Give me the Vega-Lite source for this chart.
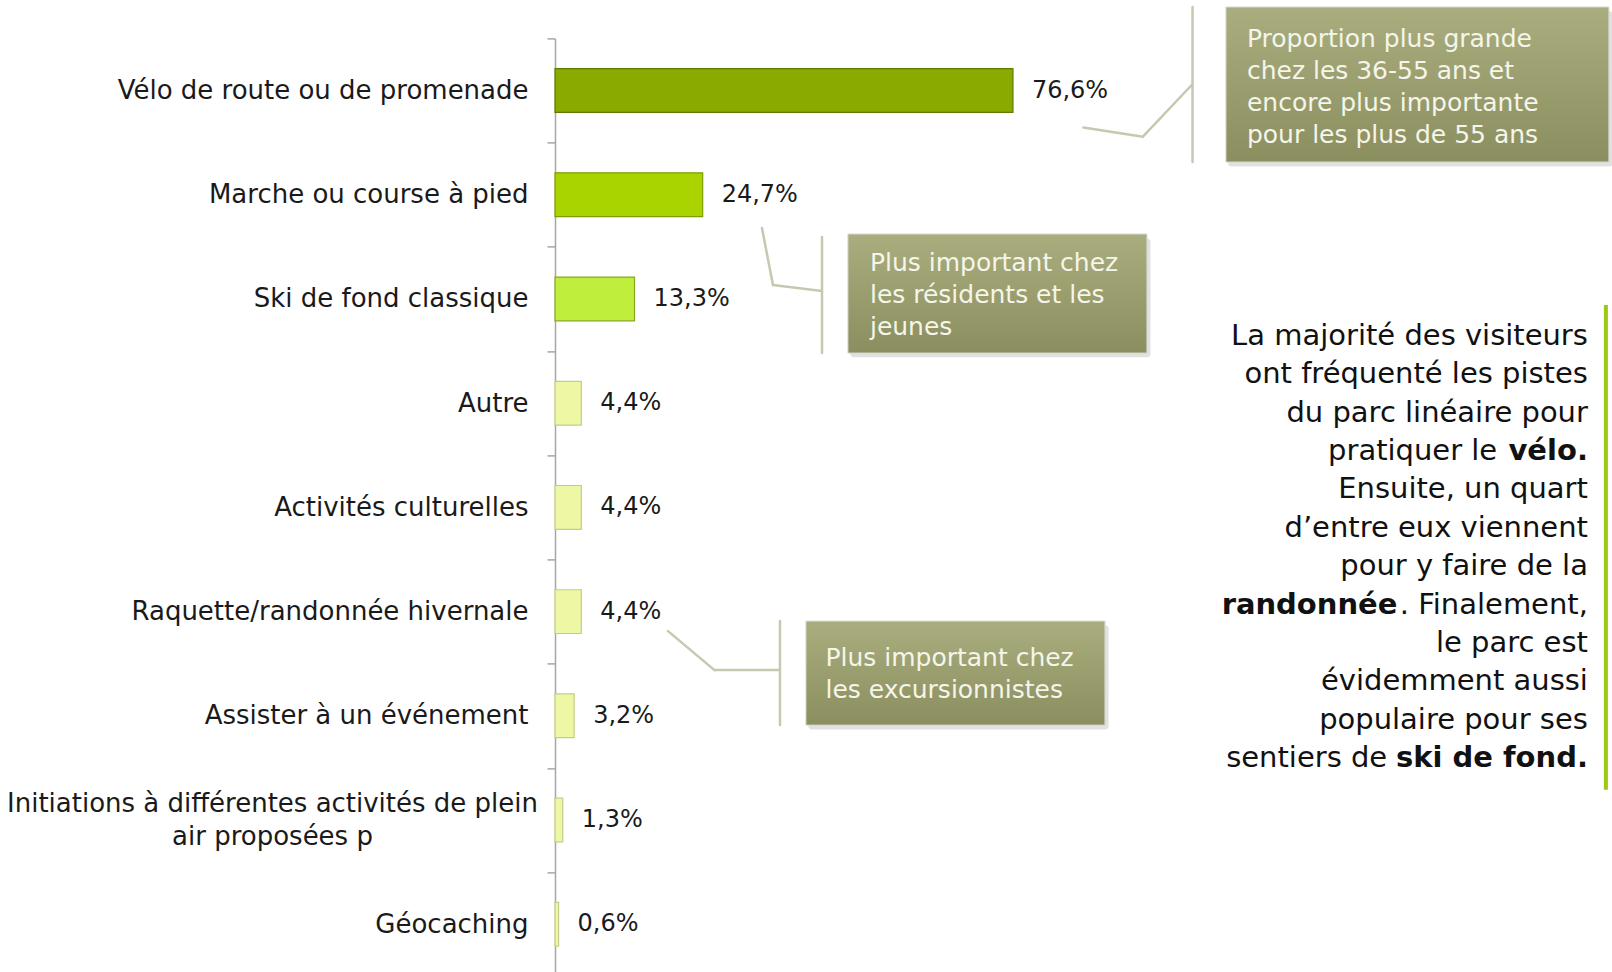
{
  "$schema": "https://vega.github.io/schema/vega-lite/v6.json",
  "width": 1057,
  "height": 938,
  "autosize": {"type": "none"},
  "padding": {"left": 555, "top": 38.4, "right": 0, "bottom": 0},
  "background": "#ffffff",
  "config": {"view": {"stroke": null}, "font": "DejaVu Sans"},
  "datasets": {
    "activites": [
      {"activite": "Vélo de route ou de promenade", "pct": 76.6, "label": "76,6%"},
      {"activite": "Marche ou course à pied", "pct": 24.7, "label": "24,7%"},
      {"activite": "Ski de fond classique", "pct": 13.3, "label": "13,3%"},
      {"activite": "Autre", "pct": 4.4, "label": "4,4%"},
      {"activite": "Activités culturelles", "pct": 4.4, "label": "4,4%"},
      {"activite": "Raquette/randonnée hivernale", "pct": 4.4, "label": "4,4%"},
      {"activite": "Assister à un événement", "pct": 3.2, "label": "3,2%"},
      {"activite": "Initiations à différentes activités de plein air proposées p", "pct": 1.3, "label": "1,3%"},
      {"activite": "Géocaching", "pct": 0.6, "label": "0,6%"}
    ]
  },
  "layer": [
    {
      "data": {"name": "activites"},
      "mark": {"type": "bar", "strokeWidth": 1.2},
      "encoding": {
        "y": {
          "field": "activite", "type": "nominal", "sort": null,
          "scale": {"paddingInner": 0.58, "paddingOuter": 0.29},
          "axis": {
            "title": null,
            "domainColor": "#A6A6A6", "domainWidth": 1.5,
            "tickColor": "#A6A6A6", "tickWidth": 1.5, "tickSize": 8,
            "tickOffset": -52.1,
            "labelOffset": {"condition": {"test": "indexof(datum.value, 'Initiations') == 0", "value": 35.6}, "value": 52.1},
            "labelFont": "DejaVu Sans", "labelFontSize": 26, "labelColor": "#1a1a1a",
            "labelLimit": 700, "labelLineHeight": 33,
            "labelExpr": "indexof(datum.value, 'Initiations') == 0 ? ['Initiations à différentes activités de plein', 'air proposées p'] : datum.value",
            "labelAlign": {"condition": {"test": "indexof(datum.value, 'Initiations') == 0", "value": "center"}, "value": "right"},
            "labelPadding": {"condition": {"test": "indexof(datum.value, 'Initiations') == 0", "value": 275}, "value": 19}
          }
        },
        "x": {"field": "pct", "type": "quantitative", "scale": {"domain": [0, 176.8], "nice": false, "zero": false}, "axis": null},
        "fill": {"field": "activite", "type": "nominal", "legend": null,
          "scale": {"domain": ["Vélo de route ou de promenade", "Marche ou course à pied", "Ski de fond classique", "Autre", "Activités culturelles", "Raquette/randonnée hivernale", "Assister à un événement", "Initiations à différentes activités de plein air proposées p", "Géocaching"],
            "range": ["#8AAA00", "#A9D400", "#BFEE3C", "#EEF8A4", "#EEF8A4", "#EEF8A4", "#EEF8A4", "#EEF8A4", "#EEF8A4"]}},
        "stroke": {"field": "activite", "type": "nominal", "legend": null,
          "scale": {"domain": ["Vélo de route ou de promenade", "Marche ou course à pied", "Ski de fond classique", "Autre", "Activités culturelles", "Raquette/randonnée hivernale", "Assister à un événement", "Initiations à différentes activités de plein air proposées p", "Géocaching"],
            "range": ["#5F7A00", "#7E9E00", "#8AA820", "#C5CC8A", "#C5CC8A", "#C5CC8A", "#C5CC8A", "#C5CC8A", "#C5CC8A"]}}
      }
    },
    {
      "data": {"name": "activites"},
      "mark": {"type": "text", "align": "left", "baseline": "middle", "dx": 19, "fontSize": 24, "font": "DejaVu Sans", "color": "#1a1a1a"},
      "encoding": {
        "y": {"field": "activite", "type": "nominal", "sort": null, "scale": {"paddingInner": 0.58, "paddingOuter": 0.29}, "axis": null},
        "x": {"field": "pct", "type": "quantitative", "scale": {"domain": [0, 176.8], "nice": false, "zero": false}, "axis": null},
        "text": {"field": "label"}
      }
    },
    {
      "data": {"values": [
        {"x1": 88.39, "y1": 0.855, "x2": 98.34, "y2": 0.943},
        {"x1": 98.34, "y1": 0.943, "x2": 106.62, "y2": 0.44},
        {"x1": 106.64, "y1": -0.301, "x2": 106.64, "y2": 1.186},
        {"x1": 34.62, "y1": 1.82, "x2": 36.46, "y2": 2.367},
        {"x1": 36.46, "y1": 2.367, "x2": 44.66, "y2": 2.424},
        {"x1": 44.66, "y1": 1.906, "x2": 44.66, "y2": 3.019},
        {"x1": 18.9, "y1": 5.687, "x2": 26.68, "y2": 6.061},
        {"x1": 26.68, "y1": 6.061, "x2": 37.63, "y2": 6.061},
        {"x1": 37.63, "y1": 5.591, "x2": 37.63, "y2": 6.589}
      ]},
      "mark": {"type": "rule", "color": "#C6C8B0", "strokeWidth": 2.5, "strokeCap": "round"},
      "encoding": {
        "x": {"field": "x1", "type": "quantitative", "scale": {"domain": [0, 176.8], "nice": false, "zero": false}, "axis": null},
        "y": {"field": "y1", "type": "quantitative", "scale": {"domain": [0, 9], "reverse": true, "nice": false, "zero": false}, "axis": null},
        "x2": {"field": "x2"}, "y2": {"field": "y2"}
      }
    },
    {
      "data": {"values": [
        {"x1": 112.6, "x2": 176.9, "y1": -0.26, "y2": 1.23},
        {"x1": 49.4, "x2": 99.6, "y1": 1.92, "y2": 3.06},
        {"x1": 42.4, "x2": 92.6, "y1": 5.63, "y2": 6.63}
      ]},
      "mark": {"type": "rect", "fill": "#5a5a5a", "opacity": 0.18, "cornerRadius": 3},
      "encoding": {
        "x": {"field": "x1", "type": "quantitative", "scale": {"domain": [0, 176.8], "nice": false, "zero": false}, "axis": null},
        "y": {"field": "y1", "type": "quantitative", "scale": {"domain": [0, 9], "reverse": true, "nice": false, "zero": false}, "axis": null},
        "x2": {"field": "x2"}, "y2": {"field": "y2"}
      }
    },
    {
      "data": {"values": [
        {"x1": 112.23, "x2": 176.28, "y1": -0.301, "y2": 1.186},
        {"x1": 49.0, "x2": 99.01, "y1": 1.877, "y2": 3.019},
        {"x1": 41.98, "x2": 91.99, "y1": 5.591, "y2": 6.589}
      ]},
      "mark": {"type": "rect", "fill": {"gradient": "linear", "x1": 0, "y1": 0, "x2": 0, "y2": 1, "stops": [{"offset": 0, "color": "#AAAE7F"}, {"offset": 1, "color": "#8B8F5F"}]}, "stroke": "#d6d6d0", "strokeWidth": 1},
      "encoding": {
        "x": {"field": "x1", "type": "quantitative", "scale": {"domain": [0, 176.8], "nice": false, "zero": false}, "axis": null},
        "y": {"field": "y1", "type": "quantitative", "scale": {"domain": [0, 9], "reverse": true, "nice": false, "zero": false}, "axis": null},
        "x2": {"field": "x2"}, "y2": {"field": "y2"}
      }
    },
    {
      "data": {"values": [
        {"x1": 115.74, "y1": 0.006, "t": "Proportion plus grande"},
        {"x1": 115.74, "y1": 0.313, "t": "chez les 36-55 ans et"},
        {"x1": 115.74, "y1": 0.62, "t": "encore plus importante"},
        {"x1": 115.74, "y1": 0.927, "t": "pour les plus de 55 ans"},
        {"x1": 52.68, "y1": 2.155, "t": "Plus important chez"},
        {"x1": 52.68, "y1": 2.462, "t": "les résidents et les"},
        {"x1": 52.68, "y1": 2.77, "t": "jeunes"},
        {"x1": 45.24, "y1": 5.946, "t": "Plus important chez"},
        {"x1": 45.24, "y1": 6.253, "t": "les excursionnistes"}
      ]},
      "mark": {"type": "text", "align": "left", "baseline": "middle", "fontSize": 25, "font": "DejaVu Sans", "color": "#F5F5EA"},
      "encoding": {
        "x": {"field": "x1", "type": "quantitative", "scale": {"domain": [0, 176.8], "nice": false, "zero": false}, "axis": null},
        "y": {"field": "y1", "type": "quantitative", "scale": {"domain": [0, 9], "reverse": true, "nice": false, "zero": false}, "axis": null},
        "text": {"field": "t"}
      }
    },
    {
      "data": {"values": [
        {"x1": 172.77, "y1": 2.856, "t": "La majorité des visiteurs"},
        {"x1": 172.77, "y1": 3.224, "t": "ont fréquenté les pistes"},
        {"x1": 172.77, "y1": 3.592, "t": "du parc linéaire pour"},
        {"x1": 157.6, "y1": 3.96, "t": "pratiquer le"},
        {"x1": 172.77, "y1": 4.328, "t": "Ensuite, un quart"},
        {"x1": 172.77, "y1": 4.697, "t": "d’entre eux viennent"},
        {"x1": 172.77, "y1": 5.065, "t": "pour y faire de la"},
        {"x1": 172.77, "y1": 5.433, "t": ". Finalement,"},
        {"x1": 172.77, "y1": 5.801, "t": "le parc est"},
        {"x1": 172.77, "y1": 6.169, "t": "évidemment aussi"},
        {"x1": 172.77, "y1": 6.537, "t": "populaire pour ses"},
        {"x1": 139.2, "y1": 6.905, "t": "sentiers de"}
      ]},
      "mark": {"type": "text", "align": "right", "baseline": "middle", "fontSize": 29, "font": "DejaVu Sans", "color": "#111111"},
      "encoding": {
        "x": {"field": "x1", "type": "quantitative", "scale": {"domain": [0, 176.8], "nice": false, "zero": false}, "axis": null},
        "y": {"field": "y1", "type": "quantitative", "scale": {"domain": [0, 9], "reverse": true, "nice": false, "zero": false}, "axis": null},
        "text": {"field": "t"}
      }
    },
    {
      "data": {"values": [
        {"x1": 172.77, "y1": 3.96, "t": "vélo."},
        {"x1": 140.9, "y1": 5.433, "t": "randonnée"},
        {"x1": 172.77, "y1": 6.905, "t": "ski de fond."}
      ]},
      "mark": {"type": "text", "align": "right", "baseline": "middle", "fontSize": 29, "font": "DejaVu Sans", "fontWeight": "bold", "color": "#111111"},
      "encoding": {
        "x": {"field": "x1", "type": "quantitative", "scale": {"domain": [0, 176.8], "nice": false, "zero": false}, "axis": null},
        "y": {"field": "y1", "type": "quantitative", "scale": {"domain": [0, 9], "reverse": true, "nice": false, "zero": false}, "axis": null},
        "text": {"field": "t"}
      }
    },
    {
      "data": {"values": [{"x1": 175.78, "y1": 2.559, "y2": 7.208}]},
      "mark": {"type": "rule", "color": "#9DC814", "strokeWidth": 4},
      "encoding": {
        "x": {"field": "x1", "type": "quantitative", "scale": {"domain": [0, 176.8], "nice": false, "zero": false}, "axis": null},
        "y": {"field": "y1", "type": "quantitative", "scale": {"domain": [0, 9], "reverse": true, "nice": false, "zero": false}, "axis": null},
        "y2": {"field": "y2"}
      }
    }
  ],
  "resolve": {"scale": {"y": "independent"}}
}
